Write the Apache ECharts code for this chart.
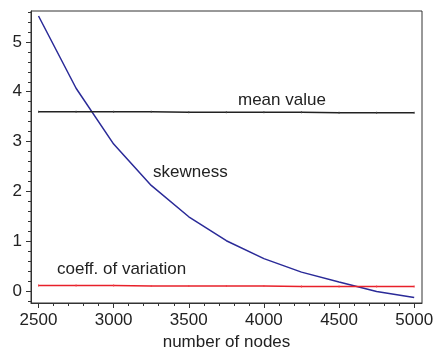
<!DOCTYPE html>
<html>
<head>
<meta charset="utf-8">
<script src="https://cdn.jsdelivr.net/npm/echarts@6/dist/echarts.min.js"></script>
<style>html,body{margin:0;padding:0;background:#fff;}#c{width:435px;height:350px;}</style>
</head>
<body>
<div id="c"></div>
<script>
// Data
const nodes = [2500, 2750, 3000, 3250, 3500, 3750, 4000, 4250, 4500, 4750, 5000];
const skewness = [5.52, 4.07, 2.95, 2.12, 1.49, 1.01, 0.65, 0.38, 0.18, -0.01, -0.13];
const meanValue = [3.60, 3.60, 3.60, 3.60, 3.59, 3.59, 3.59, 3.59, 3.58, 3.58, 3.58];
const coeffVariation = [0.11, 0.11, 0.11, 0.10, 0.10, 0.10, 0.10, 0.09, 0.09, 0.09, 0.09];
const xTicks = [2500, 3000, 3500, 4000, 4500, 5000];
const yTicks = [0, 1, 2, 3, 4, 5];
const seriesNames = ['skewness', 'mean value', 'coeff. of variation'];

const xMin = 2450, xMax = 5052, yMin = -0.24, yMax = 5.62;
const xMinor = [];
for (let v = 2500; v <= 5000; v += 100) if (v % 500 !== 0) xMinor.push(v);
const yMinor = [];
for (let i = -1; i <= 28; i++) { const v = +(i * 0.2).toFixed(1); if (Math.abs(v - Math.round(v)) > 1e-6 && v > yMin && v < yMax) yMinor.push(v); }

const font = 'Liberation Sans, Arial, sans-serif';
const txt = '#222';
const pair = (xs, ys) => xs.map((x, i) => [x, ys[i]]);

const chart = echarts.init(document.getElementById('c'));
chart.setOption({
  animation: false,
  grid: { left: 31, top: 11, right: 13, bottom: 47, show: true, borderColor: '#333', borderWidth: 1,
    backgroundColor: 'transparent', containLabel: false, outerBoundsMode: 'none' },
  xAxis: [
    { type: 'value', min: xMin, max: xMax, gridIndex: 0,
      axisLine: { show: true, onZero: false, lineStyle: { color: '#333', width: 1 } },
      axisTick: { show: true, inside: false, length: 5, customValues: xTicks, lineStyle: { color: '#333' } },
      axisLabel: { customValues: xTicks, margin: 9, color: txt, fontSize: 17, fontFamily: font,
        formatter: v => String(v) },
      splitLine: { show: false },
      name: 'number of nodes', nameLocation: 'middle', nameGap: 30,
      nameTextStyle: { color: txt, fontSize: 17, fontFamily: font } },
    { type: 'value', min: xMin, max: xMax, gridIndex: 0, position: 'bottom',
      axisLine: { show: false, onZero: false },
      axisTick: { show: true, inside: false, length: 3, customValues: xMinor, lineStyle: { color: '#333' } },
      axisLabel: { show: false }, splitLine: { show: false } }
  ],
  yAxis: [
    { type: 'value', min: yMin, max: yMax,
      axisLine: { show: true, onZero: false, lineStyle: { color: '#333', width: 1 } },
      axisTick: { show: true, inside: false, length: 5, customValues: yTicks, lineStyle: { color: '#333' } },
      axisLabel: { customValues: yTicks, margin: 9, color: txt, fontSize: 17, fontFamily: font },
      splitLine: { show: false } },
    { type: 'value', min: yMin, max: yMax, position: 'left',
      axisLine: { show: false, onZero: false },
      axisTick: { show: true, inside: false, length: 3, customValues: yMinor, lineStyle: { color: '#333' } },
      axisLabel: { show: false }, splitLine: { show: false } }
  ],
  series: [
    { name: seriesNames[0], type: 'line', data: pair(nodes, skewness), showSymbol: false, symbol: 'none',
      lineStyle: { color: '#2a2a98', width: 1.5 } },
    { name: seriesNames[1], type: 'line', data: pair(nodes, meanValue), symbol: 'rect', symbolSize: [1, 2],
      itemStyle: { color: '#444' }, lineStyle: { color: '#222', width: 1.5 } },
    { name: seriesNames[2], type: 'line', data: pair(nodes, coeffVariation), symbol: 'rect', symbolSize: [1, 2],
      itemStyle: { color: '#f04048' }, lineStyle: { color: '#e8202a', width: 1.5 } }
  ],
  graphic: [
    { type: 'text', left: 238, top: 92, style: { text: seriesNames[1], fill: txt, font: '17px ' + font } },
    { type: 'text', left: 153, top: 164, style: { text: seriesNames[0], fill: txt, font: '17px ' + font } },
    { type: 'text', left: 57, top: 261, style: { text: seriesNames[2], fill: txt, font: '17px ' + font } }
  ]
});
</script>
</body>
</html>
